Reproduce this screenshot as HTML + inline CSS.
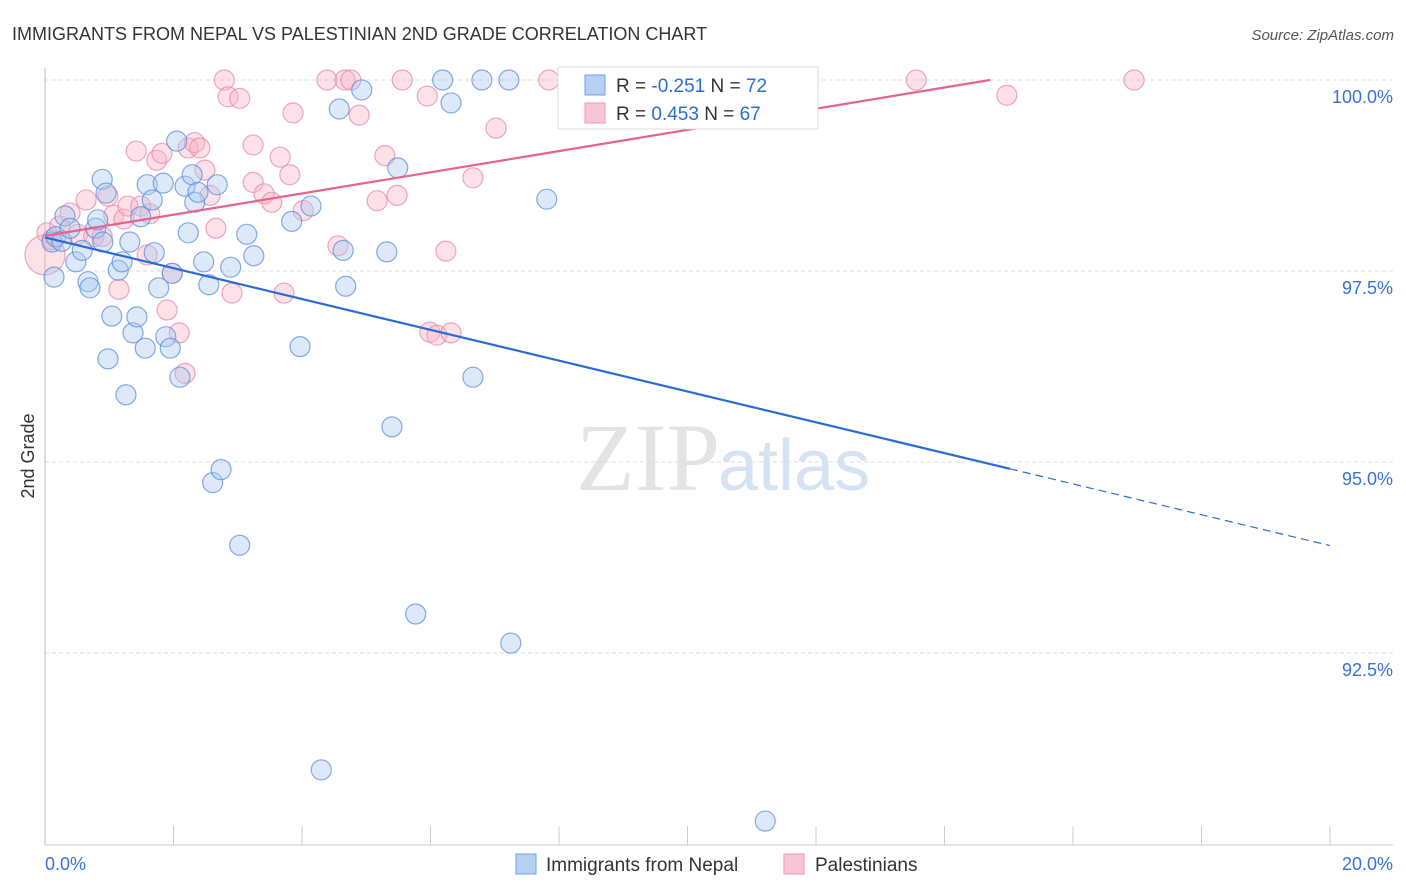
<!DOCTYPE html>
<html><head><meta charset="utf-8"><style>
body{margin:0;background:#fff;font-family:"Liberation Sans",sans-serif}
svg{display:block}
</style></head><body>
<svg id="c" width="1406" height="892">
<text x="12" y="40" font-size="18" fill="#333">IMMIGRANTS FROM NEPAL VS PALESTINIAN 2ND GRADE CORRELATION CHART</text>
<text x="1394" y="40" font-size="15" fill="#555" font-style="italic" text-anchor="end">Source: ZipAtlas.com</text>
<text x="720" y="490" font-size="96" fill="#e3e3e3" text-anchor="end" font-family="Liberation Serif">ZIP</text>
<text x="718" y="490" font-size="72" fill="#d5e2f3">atlas</text>
<g id="grid"></g><g id="axes"></g><g id="pts"></g><g id="lines"></g>
<text x="34" y="456" font-size="18" fill="#333" text-anchor="middle" transform="rotate(-90 34 456)">2nd Grade</text>
<g>
<rect x="558" y="67" width="260" height="62" fill="#fff" stroke="#ddd"/>
<rect x="585" y="75" width="20" height="20" fill="#b5d0f3" stroke="#6f9fe0"/>
<rect x="585" y="103" width="20" height="20" fill="#f9c6d4" stroke="#ec9ab2"/>
<text x="616" y="92" font-size="19" fill="#333">R = <tspan fill="#2a6cd4">-0.251</tspan>   N = <tspan fill="#2a6cd4">72</tspan></text>
<text x="616" y="120" font-size="19" fill="#333">R =  <tspan fill="#2a6cd4">0.453</tspan>   N = <tspan fill="#2a6cd4">67</tspan></text>
</g>
<g>
<rect x="516" y="854" width="20" height="20" fill="#b5d0f3" stroke="#6f9fe0"/>
<text x="546" y="871" font-size="19" fill="#333">Immigrants from Nepal</text>
<rect x="784" y="854" width="20" height="20" fill="#f9c6d4" stroke="#ec9ab2"/>
<text x="815" y="871" font-size="19" fill="#333">Palestinians</text>
</g>
</svg>
<script>
const yTicks=[100,97.5,95,92.5];
const yTickLabels=["100.0%","97.5%","95.0%","92.5%"];
const xTickLabels=["0.0%","20.0%"];
const nepalX=[0.14,0.11,0.17,0.26,0.31,0.39,0.48,0.58,0.67,0.70,0.79,0.82,0.89,0.90,0.95,0.98,1.04,1.14,1.20,1.26,1.32,1.37,1.43,1.49,1.56,1.59,1.67,1.70,1.77,1.84,1.88,1.95,1.98,2.05,2.10,2.18,2.23,2.29,2.33,2.38,2.47,2.55,2.61,2.68,2.74,2.89,3.03,3.14,3.25,3.84,3.97,4.14,4.30,4.58,4.64,4.68,4.93,5.32,5.40,5.49,5.77,6.19,6.32,6.66,6.80,7.22,7.25,7.81,11.21];
const nepalY=[97.42,97.88,97.95,97.89,98.22,98.06,97.62,97.77,97.36,97.28,98.06,98.17,98.70,97.88,98.52,96.35,96.91,97.51,97.62,95.88,97.88,96.69,96.90,98.21,96.49,98.63,98.43,97.74,97.28,98.65,96.64,96.49,97.47,99.20,96.11,98.61,98.00,98.76,98.40,98.53,97.62,97.32,94.73,98.63,94.90,97.55,93.91,97.98,97.70,98.15,96.51,98.35,90.97,99.62,97.77,97.30,99.87,97.75,95.46,98.85,93.01,100,99.70,96.11,100,100,92.63,98.44,90.30];
const palX=[0.0,0.03,0.11,0.23,0.39,0.51,0.64,0.76,0.89,0.98,1.07,1.15,1.23,1.29,1.42,1.49,1.59,1.63,1.74,1.82,1.90,1.98,2.09,2.18,2.23,2.33,2.41,2.49,2.57,2.66,2.79,2.85,3.03,2.91,3.24,3.24,3.41,3.53,3.66,3.72,3.81,3.86,4.02,4.39,4.56,4.67,4.76,4.89,5.17,5.29,5.48,5.56,5.95,5.99,6.10,6.24,6.32,6.66,7.02,7.84,11.84,13.56,14.97,16.95];
const palY=[97.71,98.00,97.91,98.09,98.26,97.98,98.43,97.95,97.95,98.48,98.23,97.26,98.18,98.35,99.07,98.35,97.71,98.25,98.95,99.04,96.99,97.47,96.69,96.16,99.11,99.18,99.11,98.82,98.49,98.06,100,99.78,99.76,97.21,99.15,98.66,98.51,98.40,98.99,97.21,98.76,99.57,98.29,100,97.83,100,100,99.54,98.42,99.01,98.49,100,99.79,96.70,96.66,97.76,96.69,98.72,99.37,100,100,100,99.80,100];
const nepalTrend=[97.94,-0.2017];
const palTrend=[97.96,0.1387];
const NS="http://www.w3.org/2000/svg";
const X=v=>45+v*64.25, Y=v=>80+(100-v)*76.4;
function mk(t,a,p){const e=document.createElementNS(NS,t);for(const k in a)e.setAttribute(k,a[k]);document.getElementById(p).appendChild(e);return e;}
yTicks.forEach((t,i)=>{
 const l=mk('line',{x1:45,x2:1393,y1:Y(t),y2:Y(t),stroke:'#ddd','stroke-dasharray':'4 3'},'grid');
 
 
 const tx=mk('text',{x:1393,y:Y(t)+23,'font-size':18,fill:'#3a72d3','text-anchor':'end'},'grid');tx.textContent=yTickLabels[i];
 
 
});
mk('line',{x1:45,x2:45,y1:68,y2:845,stroke:'#bbb'},'axes');
mk('line',{x1:45,x2:1393,y1:845,y2:845,stroke:'#ccc'},'axes');
for(let i=1;i<=10;i++){const t=mk('line',{x1:X(i*2),x2:X(i*2),y1:826,y2:845,stroke:'#ccc'},'axes');}
[[0,'start',45],[20,'end',1393]].forEach((d,i)=>{const t=mk('text',{x:d[2],y:870,'font-size':18,fill:'#3a72d3','text-anchor':d[1]},'axes');t.textContent=xTickLabels[i];
 
 });
function pts(xs,ys,f,s,nm){xs.forEach((x,i)=>{const c=mk('circle',{cx:X(x),cy:Y(ys[i]),r:(i==0&&nm=='palestinian-point')?20:10,fill:f,'fill-opacity':0.4,stroke:s,'stroke-opacity':0.75,'stroke-width':1.2},'pts');
 
 });}
pts(palX,palY,'#f7b3c6','#e88aa6','palestinian-point');
pts(nepalX,nepalY,'#a9c8f0','#5b8fdb','nepal-point');
const bEnd=15.02;
let l=mk('line',{x1:X(0),y1:Y(nepalTrend[0]),x2:X(bEnd),y2:Y(nepalTrend[0]+nepalTrend[1]*bEnd),stroke:'#2a6cd4','stroke-width':2.2},'lines');


l=mk('line',{x1:X(bEnd),y1:Y(nepalTrend[0]+nepalTrend[1]*bEnd),x2:X(20),y2:Y(nepalTrend[0]+nepalTrend[1]*20),stroke:'#2a6cd4','stroke-width':1.2,'stroke-dasharray':'8 5'},'lines');


const pEnd=(100-palTrend[0])/palTrend[1];
l=mk('line',{x1:X(0),y1:Y(palTrend[0]),x2:X(pEnd),y2:Y(100),stroke:'#e8628e','stroke-width':2.2},'lines');


</script>
</body></html>
